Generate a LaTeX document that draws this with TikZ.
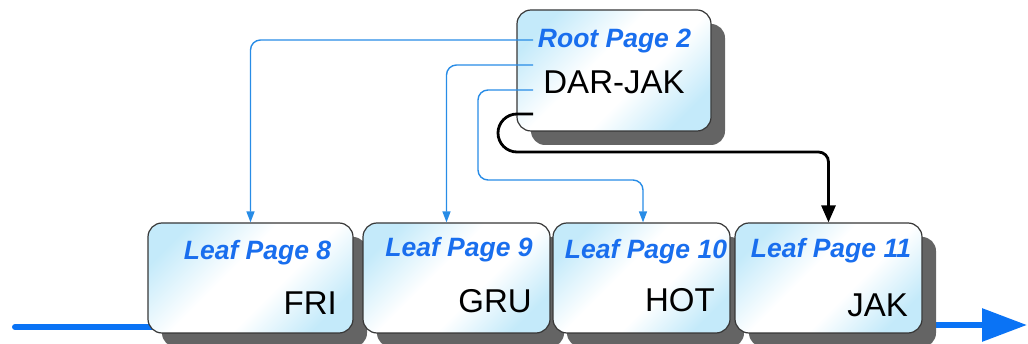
\documentclass[tikz,border=0pt]{standalone}
\usepackage{fontspec}
\setmainfont{Liberation Sans}
\usetikzlibrary{arrows.meta,shadows}

\definecolor{labelblue}{RGB}{25,110,238}
\definecolor{linkblue}{RGB}{40,140,230}
\definecolor{flowblue}{RGB}{10,115,245}
\definecolor{boxcyan}{RGB}{196,234,250}
\definecolor{boxedge}{RGB}{55,55,55}
\definecolor{shadowgray}{RGB}{100,100,100}

% pale cyan corners, white diagonal band through the middle
\pgfdeclareverticalshading{pagefill}{100bp}{%
  color(0bp)=(boxcyan); color(24bp)=(boxcyan);
  color(42bp)=(white); color(56bp)=(white);
  color(76bp)=(boxcyan); color(100bp)=(boxcyan)}

\tikzset{
  page/.style={draw=boxedge, line width=1.2pt, rounded corners=14pt,
    inner sep=0pt, shading=pagefill, shading angle=45,
    drop shadow={shadow xshift=14pt, shadow yshift=-14pt, fill=shadowgray, opacity=1}},
  title/.style={text=labelblue, font=\bfseries\itshape\fontsize{26.5}{30}\selectfont,
    inner sep=0pt, anchor=base},
  keys/.style={text=black, font=\fontsize{33}{36}\selectfont, inner sep=0pt},
  link/.style={draw=linkblue, line width=1.4pt, rounded corners=10pt,
    -{Triangle[length=11pt,width=8pt]}},
  chain/.style={draw=black, line width=2.8pt,
    -{Triangle[length=17pt,width=14pt]}},
  flow/.style={draw=flowblue, line width=6pt},
}

\begin{document}
\begin{tikzpicture}[x=1pt, y=-1pt]
  \useasboundingbox (0,0) rectangle (1028,344);

  % sibling chain along the leaf level
  \coordinate (chainin) at (15,327);
  \coordinate (chainout) at (1027,325);
  \draw[flow, line cap=round] (chainin) -- (160,327);
  \draw[flow, -{Triangle[length=45pt,width=32pt]}] (900,325) -- (chainout);

  % root page
  \node[page, minimum width=194pt, minimum height=121pt] (root) at (614,70.5) {};
  \node[title] (roottitle) at (614.5,48) {Root Page 2};
  \node[keys, anchor=base] (rootkeys) at (614,94) {DAR-JAK};

  % leaf pages
  \node[page, minimum width=205pt, minimum height=110pt] (leaf8) at (250.5,278) {};
  \node[title] (t8) at (257.5,260) {Leaf Page 8};
  \node[keys, anchor=base east] (k8) at (337,315) {FRI};

  \node[page, minimum width=187pt, minimum height=110pt] (leaf9) at (456.5,278) {};
  \node[title] (t9) at (459,257) {Leaf Page 9};
  \node[keys, anchor=base east] (k9) at (532,313) {GRU};

  \node[page, minimum width=177pt, minimum height=110pt] (leaf10) at (641.5,278) {};
  \node[title] (t10) at (646,259) {Leaf Page 10};
  \node[keys, anchor=base east] (k10) at (715,312) {HOT};

  \node[page, minimum width=187pt, minimum height=110pt] (leaf11) at (828.5,278) {};
  \node[title] (t11) at (831,258) {Leaf Page 11};
  \node[keys, anchor=base east] (k11) at (908,317) {JAK};

  % entry points inside the root page
  \coordinate (r1) at (533,40);
  \coordinate (r2) at (533,65);
  \coordinate (r3) at (533,90);
  \coordinate (r4) at (533,114);

  % child pointers
  \draw[link] (r1) -| (leaf8.north);
  \draw[link] (r2) -| ([xshift=-10pt]leaf9.north);
  \draw[link] (r3) -| (478,180) -| ([xshift=1.5pt]leaf10.north);
  \draw[chain] (r4) -- (517,114) arc[start angle=270, end angle=90, radius=19]
    [rounded corners=10pt] -| (leaf11.north);
\end{tikzpicture}
\end{document}
